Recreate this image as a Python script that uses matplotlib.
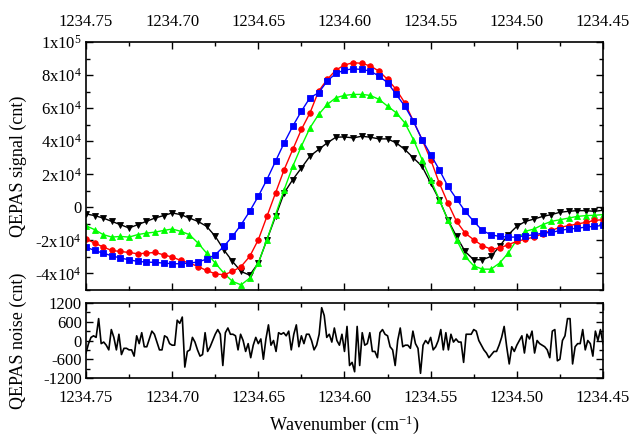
import numpy as np
import matplotlib
matplotlib.use('Agg')
import matplotlib.pyplot as plt
from matplotlib.ticker import MultipleLocator, FixedLocator

plt.rcParams['font.family'] = ['Liberation Serif', 'DejaVu Serif']
plt.rcParams['font.size'] = 12
plt.rcParams['axes.labelsize'] = 13
plt.rcParams['axes.unicode_minus'] = False
plt.rcParams['mathtext.fontset'] = 'custom'
plt.rcParams['mathtext.rm'] = 'Liberation Serif'
plt.rcParams['mathtext.it'] = 'Liberation Serif:italic'

# 波数网格 (cm^-1)，步长 0.005
wavenumber = np.linspace(1234.75, 1234.45, 61)

# 四条 QEPAS 信号曲线 (cnt)
signal_black = [
    -4000, -5000, -6500, -8500, -10500, -12500, -10500, -8500, -6500, -5000,
    -3400, -4400, -6500, -8500, -11500, -17500, -25700, -32700, -38800, -41000,
    -33700, -19600, -5500, 8700, 16800, 23800, 31000, 35000, 39000, 42400,
    42600, 42000, 43000, 42400, 41400, 41400, 39000, 35000, 29900, 24800,
    14700, 4600, -7500, -17600, -26700, -31700, -31700, -29700, -23600, -16600,
    -11500, -8500, -7100, -5500, -4400, -3000, -2400, -2000, -2000, -2400,
    -1800]
signal_green = [
    -11100, -13500, -16500, -18000, -17600, -18000, -16500, -15600, -15000, -14000,
    -13100, -14500, -16500, -21600, -27700, -33700, -39800, -44800, -46900, -42800,
    -33700, -19600, -4400, 10700, 24800, 37000, 48100, 56200, 62200, 66300,
    67700, 68300, 68300, 67700, 65300, 61200, 57200, 51100, 41000, 28900,
    16800, 4600, -7700, -19600, -29700, -35400, -37400, -37400, -33700, -27700,
    -19600, -14500, -13100, -10500, -8500, -7500, -6500, -5500, -5000, -4800,
    -4400]
signal_red = [
    -19200, -21600, -24000, -26100, -26700, -27300, -28100, -27700, -27300, -28700,
    -30100, -32100, -33700, -35800, -38200, -40200, -40800, -38800, -35800, -29700,
    -19600, -5500, 8700, 22800, 35000, 47100, 57200, 70300, 77400, 83000,
    86100, 87500, 87100, 85500, 82400, 77400, 71300, 63200, 52100, 41000,
    28900, 14700, 2600, -8500, -15600, -19600, -23200, -25300, -24600, -22600,
    -20600, -19200, -18000, -16000, -14000, -12100, -11100, -10100, -9100, -7900,
    -7500]
signal_blue = [
    -24000, -26100, -27700, -29300, -30700, -31700, -32700, -33100, -33300, -33700,
    -34100, -34100, -33700, -33100, -31300, -28700, -23600, -17600, -10500, -2400,
    6700, 16800, 27900, 39000, 49100, 58200, 66300, 69300, 76400, 81000,
    83000, 83800, 83400, 82400, 79400, 75400, 68300, 61200, 52100, 41000,
    31900, 22800, 12700, 5100, -2400, -8500, -14000, -16600, -17600, -18000,
    -18000, -17200, -16600, -15600, -15200, -14000, -13100, -12700, -11900, -11500,
    -10900]

# 噪声 (cnt)
noise = [
    -400, -100, 100, 150, 100, 700, -100, -50, -150, -300,
    350, 100, -300, 200, -450, -250, -250, -300, -300, -500,
    150, -100, 250, -200, -200, 50, 300, 200, -50, -300,
    -300, 150, 100, -100, -150, -150, 650, 550, 750, -850,
    -350, -300, 100, -50, -300, -500, -450, 250, -350, -200,
    0, 200, 350, 200, -800, 250, 400, 200, 200, 150,
    -300, 200, 0, -350, -100, -550, -150, 100, -100, 50,
    -600, 50, 500, -150, 0, -350, 250, 200, 250, 150,
    300, -300, 200, 500, -200, 150, -100, 200, 200, 0,
    -300, -150, 200, 1050, 800, 100, 200, -50, 400, 0,
    -150, 200, -350, 450, -800, -700, -1000, 450, -800, 250,
    -150, -100, 250, -350, -350, -550, 250, 350, 200, 150,
    -200, -300, -800, 0, 400, -200, -150, -150, -250, 300,
    -100, -250, -1050, -150, 0, -100, 100, -300, -200, 0,
    350, -300, 250, -300, 200, -50, 50, -50, -50, -700,
    200, 200, 200, 350, 300, 0, -150, -300, -400, -550,
    -450, -350, -350, -150, 100, 450, -200, -750, -200, -350,
    -150, 0, 150, -400, 200, 50, 300, -400, 0, -100,
    -150, -200, -300, -550, 300, 350, -650, -600, 0, 150,
    700, 700, -750, -200, -100, -100, 350, -300, 0, -100,
    -500, 300, 0, 350, -100]
noise_wn = np.linspace(1234.75, 1234.45, len(noise))

fig = plt.figure(figsize=(6.34, 4.38), dpi=100)
ax1 = fig.add_axes([0.1356, 0.3379, 0.8155, 0.5662])
ax2 = fig.add_axes([0.1356, 0.1370, 0.8155, 0.1712])

series = [
    (signal_black, 'black', 'v'),
    (signal_green, '#00ff00', '^'),
    (signal_red, 'red', 'o'),
    (signal_blue, 'blue', 's'),
]
for vals, c, m in series:
    ax1.plot(wavenumber, vals, color=c, marker=m, markersize=4,
             linewidth=1.0, markeredgewidth=0.6)

ax1.set_xlim(1234.75, 1234.45)
ax1.set_ylim(-5e4, 1e5)
ax1.yaxis.set_major_locator(FixedLocator([-4e4, -2e4, 0, 2e4, 4e4, 6e4, 8e4, 1e5]))
ax1.yaxis.set_minor_locator(MultipleLocator(1e4))
ax1.set_yticklabels([r'-4x10$^{4}$', r'-2x10$^{4}$', '0', r'2x10$^{4}$',
                     r'4x10$^{4}$', r'6x10$^{4}$', r'8x10$^{4}$', r'1x10$^{5}$'])
ax1.set_ylabel('QEPAS signal (cnt)')
ax1.xaxis.set_ticks_position('both')
ax1.tick_params(axis='x', labeltop=True, labelbottom=False)

ax2.plot(noise_wn, noise, color='black', linewidth=1.2)
ax2.set_xlim(1234.75, 1234.45)
ax2.set_ylim(-1200, 1200)
ax2.set_yticks([-1200, -600, 0, 600, 1200])
ax2.yaxis.set_minor_locator(MultipleLocator(300))
ax2.set_ylabel('QEPAS noise (cnt)')
ax2.set_xlabel('Wavenumber (cm$^{-1}$)', labelpad=5)

for ax in (ax1, ax2):
    ax.xaxis.set_major_locator(MultipleLocator(0.05))
    ax.xaxis.set_minor_locator(MultipleLocator(0.025))
    ax.xaxis.set_major_formatter(plt.FormatStrFormatter('%.2f'))
    ax.tick_params(which='both', direction='in', top=True, right=True, width=1.0)
    ax.tick_params(which='major', length=5)
    ax.tick_params(which='minor', length=3)
    ax.tick_params(axis='x', which='major', pad=9)
    ax.tick_params(axis='y', which='major', pad=3)
    for s in ax.spines.values():
        s.set_linewidth(1.2)

ax1.yaxis.set_label_coords(-0.114, 0.5)
ax2.yaxis.set_label_coords(-0.114, 0.5)

fig.savefig('out.png', dpi=100)
